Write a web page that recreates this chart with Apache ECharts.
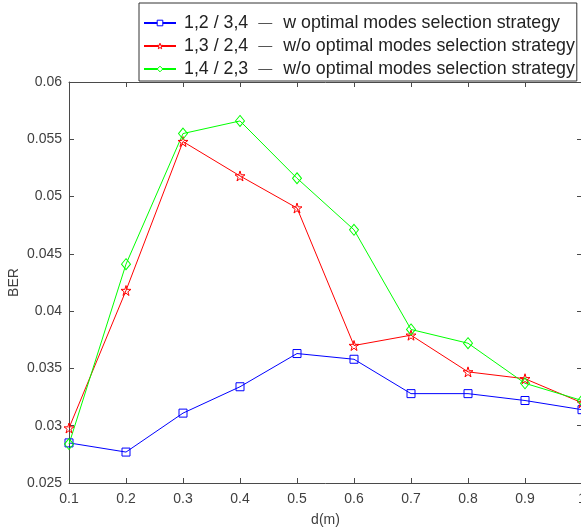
<!DOCTYPE html>
<html>
<head>
<meta charset="utf-8">
<script src="https://cdn.jsdelivr.net/npm/echarts@6/dist/echarts.min.js"></script>
<style>
  html, body { margin: 0; padding: 0; background: #fff; }
  #chart { width: 581px; height: 531px; }
</style>
</head>
<body>
<div id="chart"></div>
<script>
// distance d(m)
var distances = [0.1, 0.2, 0.3, 0.4, 0.5, 0.6, 0.7, 0.8, 0.9, 1.0];

// BER per mode pairing
var ber12_34 = [0.0285, 0.0277, 0.0311, 0.0334, 0.0363, 0.0358, 0.0328, 0.0328, 0.0322, 0.0314];
var ber13_24 = [0.0298, 0.0418, 0.0548, 0.0518, 0.0490, 0.0370, 0.0379, 0.0347, 0.0341, 0.0320];
var ber14_23 = [0.0284, 0.0441, 0.0555, 0.0566, 0.0516, 0.0471, 0.0384, 0.0372, 0.0337, 0.0322];

var seriesNames = ['1,2 / 3,4', '1,3 / 2,4', '1,4 / 2,3'];
var seriesNotes = [
    'w optimal modes selection strategy',
    'w/o optimal modes selection strategy',
    'w/o optimal modes selection strategy'
];
var seriesColors = ['#0000ff', '#ff0000', '#00ff00'];

var yTicks = { min: 0.025, max: 0.06, interval: 0.005 };
var xTicks = { min: 0.1, max: 1, interval: 0.1 };

var axisGray = '#4a4a4a';
var textGray = '#404040';
var font = 'Liberation Sans, Arial, sans-serif';

function pairs(ys) {
    return distances.map(function (d, i) { return [d, ys[i]]; });
}

var starPath = 'path://M50,0 L61,35 L98,35 L68,57 L79,91 L50,70 L21,91 L32,57 L2,35 L39,35 Z';

function makeSeries(name, ys, color, symbol, size) {
    return {
        name: name,
        type: 'line',
        data: pairs(ys),
        symbol: symbol,
        symbolSize: size,
        showAllSymbol: true,
        lineStyle: { color: color, width: 1 },
        itemStyle: { color: 'rgba(0,0,0,0)', borderColor: color, borderWidth: 1 },
        emphasis: { disabled: true },
        animation: false,
        z: 3
    };
}

var chart = echarts.init(document.getElementById('chart'));

var hiddenAxis = {
    axisLine: { show: true, onZero: false, lineStyle: { color: axisGray, width: 1 } },
    axisTick: { show: true, inside: true, length: 5, lineStyle: { color: axisGray } },
    axisLabel: { show: false },
    splitLine: { show: false }
};

chart.setOption({
    backgroundColor: '#fff',
    animation: false,
    textStyle: { fontFamily: font },
    grid: { left: 69, top: 82, width: 513, height: 401, outerBoundsMode: 'none', containLabel: false },
    legend: {
        orient: 'vertical',
        left: 139,
        top: 3,
        padding: [11, 2, 3, 4],
        itemGap: 5,
        itemWidth: 32,
        itemHeight: 7,
        backgroundColor: '#fff',
        borderColor: '#333',
        borderWidth: 1,
        data: seriesNames.map(function (n, i) {
            return {
                name: n,
                itemStyle: { color: '#fff', borderColor: seriesColors[i], borderWidth: 1 }
            };
        }),
        formatter: function (name) {
            var i = seriesNames.indexOf(name);
            return '{a|' + name + '}{b|—}{c|' + seriesNotes[i] + '}';
        },
        textStyle: {
            rich: {
                a: { fontSize: 17.8, color: '#222', lineHeight: 20, padding: [0, 0, 0, 3], fontFamily: font },
                b: { fontSize: 14, color: '#555', lineHeight: 20, padding: [0, 11, 0, 10], fontFamily: font },
                c: { fontSize: 17.8, color: '#222', lineHeight: 20, fontFamily: font }
            }
        },
        z: 10
    },
    xAxis: [
        {
            type: 'value',
            min: xTicks.min,
            max: xTicks.max,
            interval: xTicks.interval,
            name: 'd(m)',
            nameLocation: 'middle',
            nameGap: 30,
            nameMoveOverlap: false,
            nameTextStyle: { fontSize: 14, color: textGray, fontFamily: font },
            axisLine: { show: true, onZero: false, lineStyle: { color: axisGray, width: 1 } },
            axisTick: { show: true, inside: true, length: 5, lineStyle: { color: axisGray } },
            axisLabel: { fontSize: 14, color: textGray, margin: 9, fontFamily: font },
            splitLine: { show: false }
        },
        Object.assign({
            type: 'value', position: 'top',
            min: xTicks.min, max: xTicks.max, interval: xTicks.interval
        }, hiddenAxis)
    ],
    yAxis: [
        {
            type: 'value',
            min: yTicks.min,
            max: yTicks.max,
            interval: yTicks.interval,
            name: 'BER',
            nameLocation: 'middle',
            nameGap: 48,
            nameMoveOverlap: false,
            nameTextStyle: { fontSize: 14, color: textGray, fontFamily: font },
            axisLine: { show: true, onZero: false, lineStyle: { color: axisGray, width: 1 } },
            axisTick: { show: true, inside: true, length: 5, lineStyle: { color: axisGray } },
            axisLabel: { fontSize: 14, color: textGray, margin: 7, fontFamily: font },
            splitLine: { show: false }
        },
        Object.assign({
            type: 'value', position: 'right',
            min: yTicks.min, max: yTicks.max, interval: yTicks.interval
        }, hiddenAxis)
    ],
    series: [
        makeSeries(seriesNames[0], ber12_34, seriesColors[0], 'rect', 8),
        makeSeries(seriesNames[1], ber13_24, seriesColors[1], starPath, 10),
        makeSeries(seriesNames[2], ber14_23, seriesColors[2], 'diamond', [9, 11])
    ]
});
</script>
</body>
</html>
